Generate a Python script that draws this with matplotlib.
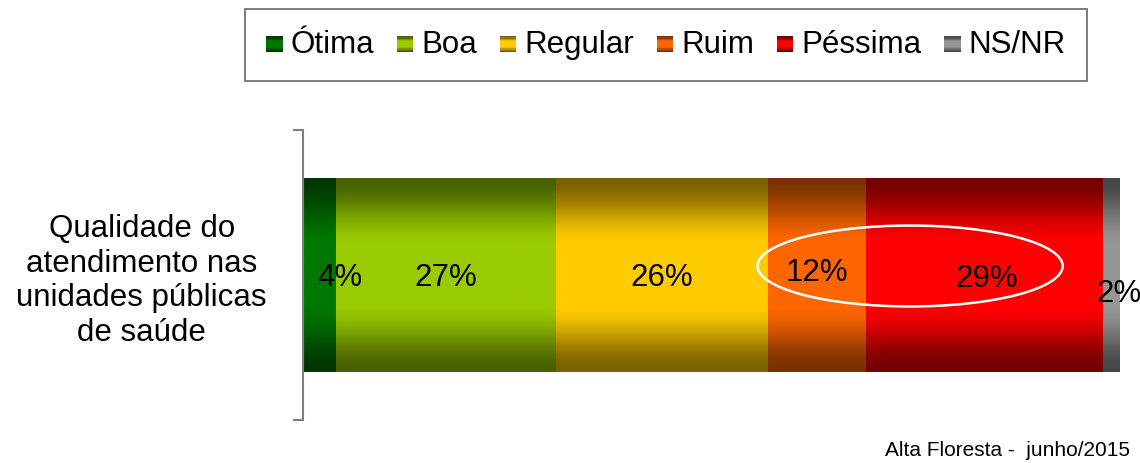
import matplotlib.pyplot as plt
import numpy as np
from matplotlib.patches import Rectangle, Ellipse

plt.rcParams['font.family'] = ['Liberation Sans', 'DejaVu Sans']

categories = ['Ótima', 'Boa', 'Regular', 'Ruim', 'Péssima', 'NS/NR']
values = [4, 27, 26, 12, 29, 2]
question = 'Qualidade do\natendimento nas\nunidades públicas\nde saúde'

# (edge colour, middle colour) for each band's vertical gradient
edge_cols = ['#003700', '#486000', '#7a6000', '#7a3200', '#730000', '#464646']
mid_cols = ['#007800', '#99cc00', '#ffcc00', '#ff6600', '#ff0000', '#969696']

# nudges for the value labels, in points
label_offsets = [(15, -2), (0, -2), (0, -2), (0, 1.5), (2, -3), (6, -14)]


def hex2rgb(c):
    c = c.lstrip('#')
    return np.array([int(c[i:i + 2], 16) for i in (0, 2, 4)]) / 255.0


def gradient(edge, mid, n=200):
    s = np.linspace(-1, 1, n)
    t = np.clip((1 - np.abs(s)) / 0.7, 0, 1)
    t = t * t * (3 - 2 * t)
    e, m = hex2rgb(edge), hex2rgb(mid)
    return e[None, :] + (m - e)[None, :] * t[:, None]


class GradientHandler:
    def __init__(self, edge, mid):
        self.edge, self.mid = edge, mid

    def legend_artist(self, legend, orig_handle, fontsize, handlebox):
        w, h = handlebox.width, handlebox.height
        x0, y0 = -handlebox.xdescent, -handlebox.ydescent
        side = w
        yb = y0 + (h - side) / 2 - 1.5
        cols = gradient(self.edge, self.mid, 12)
        n = len(cols)
        for i, c in enumerate(cols):
            r = Rectangle((x0, yb + side * i / n), side, side / n + 0.05,
                          facecolor=c, edgecolor='none')
            handlebox.add_artist(r)
        return r


fig = plt.figure(figsize=(11.4, 4.63), dpi=100)
ax = fig.add_axes([303 / 1140, 1 - 420 / 463, 816 / 1140, 290 / 463])

lefts = np.concatenate([[0], np.cumsum(values)[:-1]])
bars = []
for i, (cat, v, l) in enumerate(zip(categories, values, lefts)):
    b = ax.barh(0, v, left=l, height=0.669, color='none', edgecolor='none',
                label=cat)[0]
    bars.append(b)
    x, y = b.get_x(), b.get_y()
    img = gradient(edge_cols[i], mid_cols[i])[:, None, :]
    im = ax.imshow(img, extent=[x, x + b.get_width(), y, y + b.get_height()],
                   aspect='auto', interpolation='bilinear', origin='lower',
                   zorder=2)
    im.set_clip_path(b)
    ax.annotate(f'{v}%', (l + v / 2, 0), xytext=label_offsets[i],
                textcoords='offset points', ha='center', va='center',
                fontsize=22.5, color='black', zorder=4,
                annotation_clip=False)

ax.set_xlim(0, 100)
ax.set_ylim(-0.5, 0.5)

# highlight the negative answers
ax.add_patch(Ellipse((74.4, 0.031), 37.4, 0.279, facecolor='none',
                     edgecolor='white', lw=1.8, zorder=5))

for sp in ['top', 'right', 'bottom']:
    ax.spines[sp].set_visible(False)
ax.spines['left'].set_color('#7f7f7f')
ax.spines['left'].set_linewidth(1.5)
ax.set_xticks([])
ax.set_yticks([0], labels=[question])
ax.tick_params(axis='y', which='major', length=0, pad=26, labelsize=22.5)
for t in ax.get_yticklabels():
    t.set_multialignment('center')
ax.set_yticks([-0.5, 0.5], minor=True)
ax.tick_params(axis='y', which='minor', length=7, width=1.5, color='#7f7f7f',
               direction='out')

handler_map = {b: GradientHandler(edge_cols[i], mid_cols[i]) for i, b in enumerate(bars)}
leg = fig.legend(handles=bars, labels=categories, handler_map=handler_map,
                 loc='center', bbox_to_anchor=(666 / 1140, 1 - 45 / 463),
                 ncol=6, fontsize=22.5, frameon=True, fancybox=False,
                 edgecolor='#404040', handlelength=0.53, handleheight=0.7,
                 handletextpad=0.26, columnspacing=0.72, borderpad=0.66)
leg.get_frame().set_linewidth(1.2)

fig.text(1130 / 1140, 1 - 451 / 463, 'Alta Floresta -  junho/2015',
         ha='right', va='center', fontsize=15)

fig.savefig('out.png', dpi=100)
